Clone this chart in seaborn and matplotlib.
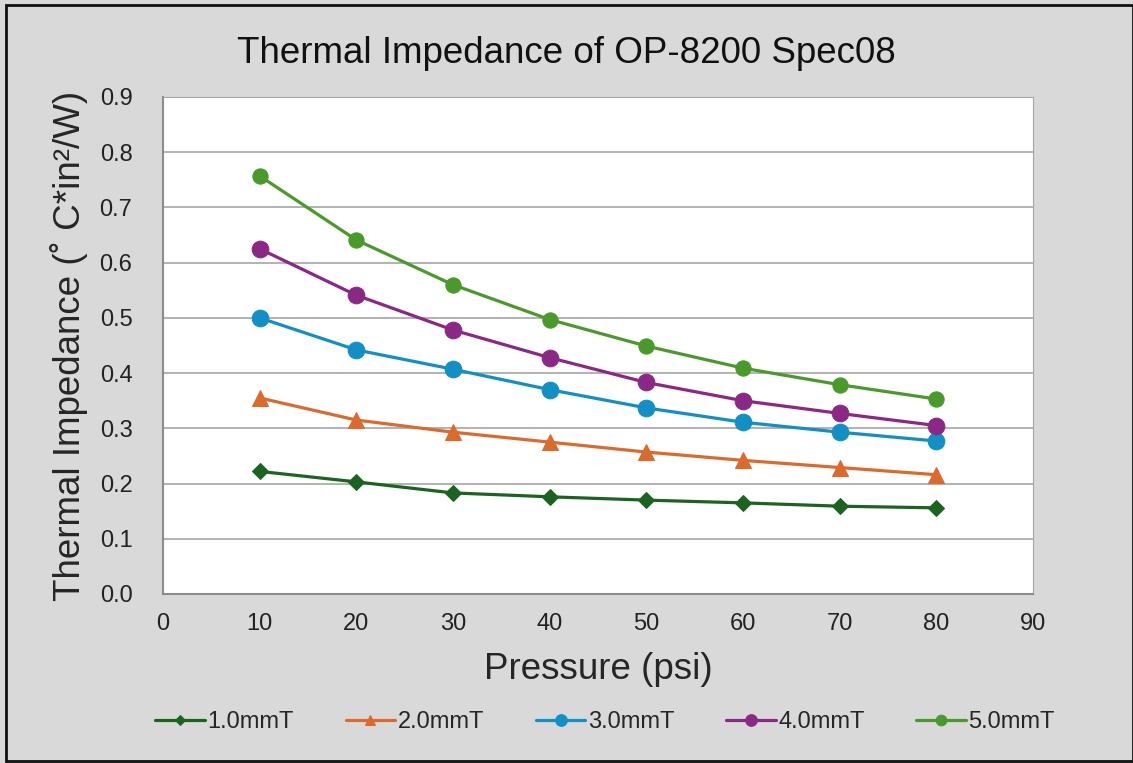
import pandas as pd
import numpy as np
import matplotlib
matplotlib.use('Agg')
import matplotlib.pyplot as plt
import seaborn as sns
from matplotlib.patches import Rectangle

# Data
pressure = [10, 20, 30, 40, 50, 60, 70, 80]
t_1_0 = [0.222, 0.203, 0.183, 0.176, 0.170, 0.165, 0.159, 0.156]
t_2_0 = [0.355, 0.315, 0.293, 0.275, 0.257, 0.242, 0.229, 0.216]
t_3_0 = [0.500, 0.442, 0.407, 0.370, 0.337, 0.311, 0.293, 0.277]
t_4_0 = [0.625, 0.541, 0.478, 0.428, 0.383, 0.350, 0.327, 0.305]
t_5_0 = [0.757, 0.641, 0.560, 0.497, 0.449, 0.409, 0.379, 0.353]
series_names = ['1.0mmT', '2.0mmT', '3.0mmT', '4.0mmT', '5.0mmT']
x_ticks = [0, 10, 20, 30, 40, 50, 60, 70, 80, 90]
y_ticks = [0.0, 0.1, 0.2, 0.3, 0.4, 0.5, 0.6, 0.7, 0.8, 0.9]

colors = ['#1b6420', '#dc6a2c', '#128fc4', '#8b2785', '#4a9a2b']
markers = ['D', '^', 'o', 'o', 'o']
msizes = [8, 11, 12, 12, 11]

df = pd.DataFrame({
    'Pressure': pressure * 5,
    'Impedance': t_1_0 + t_2_0 + t_3_0 + t_4_0 + t_5_0,
    'Series': [n for n in series_names for _ in pressure],
})

sns.set_style('white')
plt.rcParams['font.family'] = ['Liberation Sans', 'DejaVu Sans']

fig = plt.figure(figsize=(11.33, 7.63), dpi=100, facecolor='#d9d9d9')
ax = fig.add_axes([0.1439, 0.2215, 0.7678, 0.6514])
ax.set_facecolor('white')

for name, col, mk, ms in zip(series_names, colors, markers, msizes):
    sub = df[df['Series'] == name]
    sns.lineplot(data=sub, x='Pressure', y='Impedance', ax=ax, color=col,
                 marker=mk, markersize=ms, markeredgecolor=col, linewidth=2.3,
                 label=name, zorder=3)

ax.set_xlim(0, 90)
ax.set_ylim(0, 0.9)
ax.set_xticks(x_ticks)
ax.set_yticks(y_ticks)
ax.set_yticklabels([f'{v:.1f}' for v in y_ticks])
ax.tick_params(axis='both', labelsize=17, colors='#222222')
ax.tick_params(axis='x', direction='out', length=5, color='#a0a0a0', width=1, pad=9)
ax.tick_params(axis='y', length=0, pad=22)
ax.yaxis.grid(True, color='#a6a6a6', linewidth=1.2)
ax.xaxis.grid(False)
for side in ['top', 'right']:
    ax.spines[side].set_visible(True)
    ax.spines[side].set_color('#a6a6a6')
for side in ['left', 'bottom']:
    ax.spines[side].set_color('#8c8c8c')
    ax.spines[side].set_linewidth(1.5)

ax.set_xlabel('Pressure (psi)', fontsize=26.5, labelpad=12)
ax.set_ylabel('Thermal Impedance (˚ C*in²/W)', fontsize=26.5, labelpad=8)
fig.text(0.5, 0.93, 'Thermal Impedance of OP-8200 Spec08', ha='center', va='center',
         fontsize=26.5, color='#111111')

leg = ax.legend(loc='center', bbox_to_anchor=(0.534, 0.0535), bbox_transform=fig.transFigure,
                ncol=5, frameon=False, fontsize=17, handlelength=2.1, handletextpad=0.1,
                columnspacing=2.2, markerscale=0.7)

fig.patches.append(Rectangle((0.005, 0.003), 0.995, 0.99, transform=fig.transFigure,
                             fill=False, edgecolor='#111111', linewidth=2))

fig.savefig('out.png', dpi=100, facecolor=fig.get_facecolor())
